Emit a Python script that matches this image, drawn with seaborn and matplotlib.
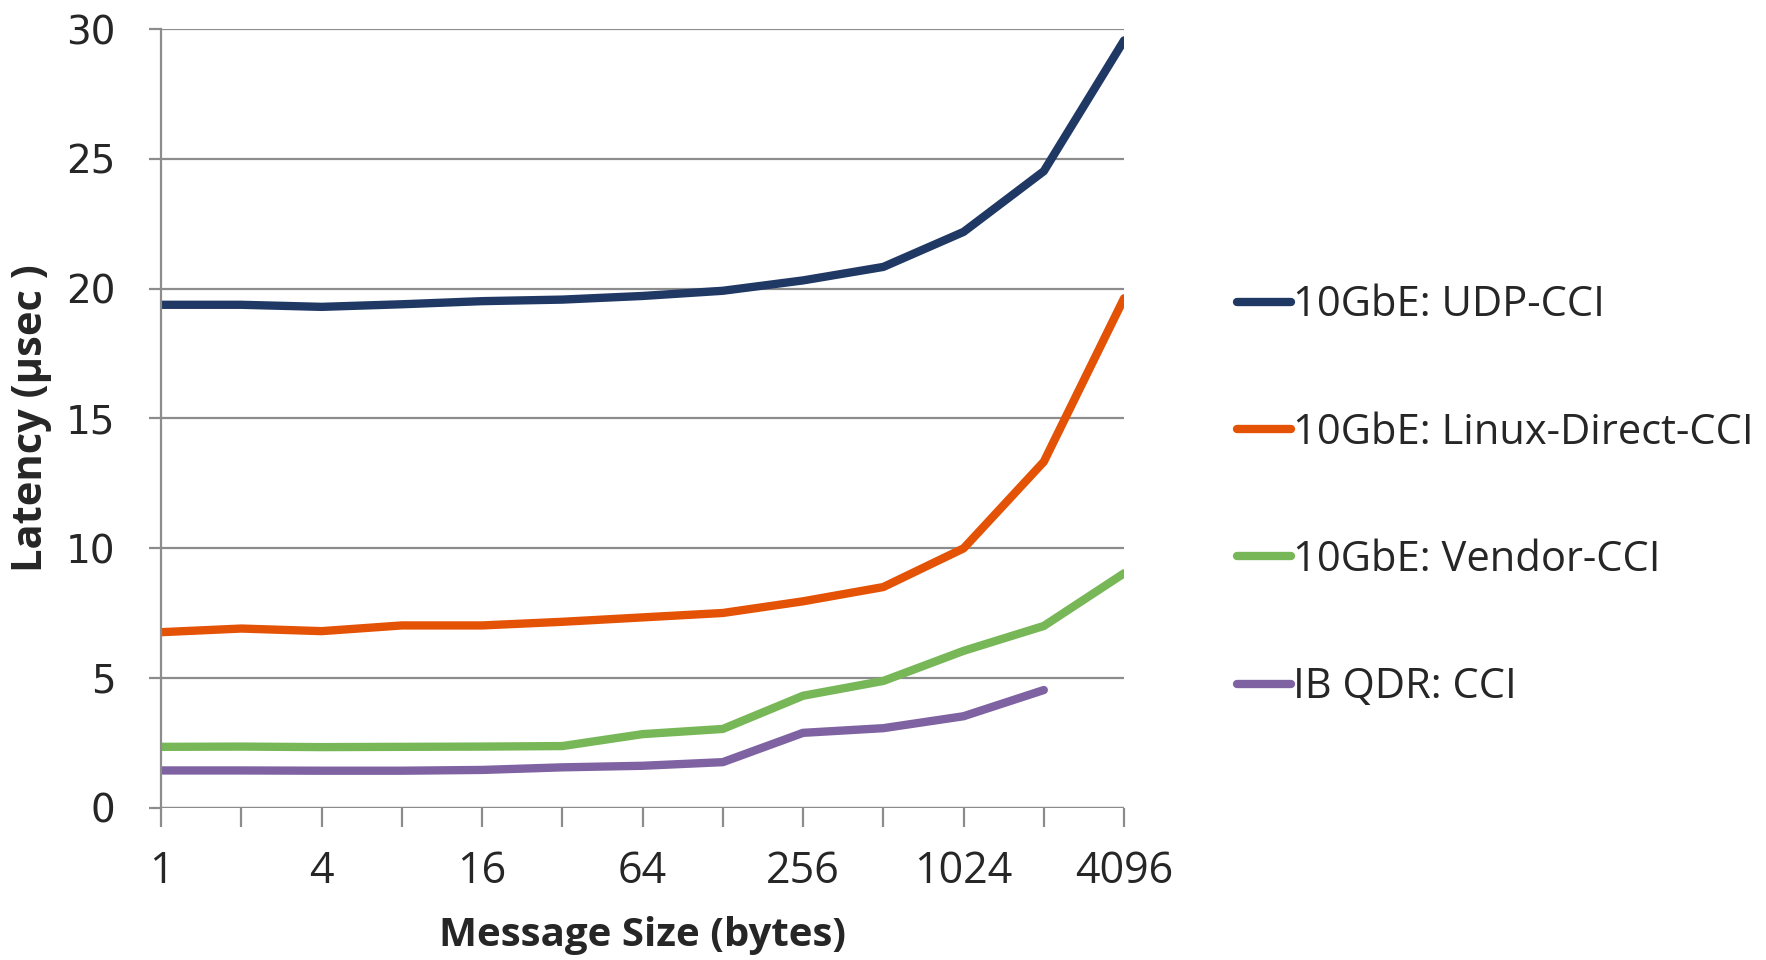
import numpy as np
import pandas as pd
import seaborn as sns
import matplotlib
matplotlib.use("Agg")
import matplotlib.pyplot as plt

sizes = [1, 2, 4, 8, 16, 32, 64, 128, 256, 512, 1024, 2048, 4096]
tick_labels = ["1", "", "4", "", "16", "", "64", "", "256", "", "1024", "", "4096"]

udp_cci = [19.38, 19.38, 19.30, 19.40, 19.52, 19.58, 19.72, 19.92, 20.32, 20.84, 22.19, 24.53, 29.57]
linux_direct_cci = [6.76, 6.90, 6.80, 7.02, 7.02, 7.16, 7.33, 7.50, 7.95, 8.50, 9.99, 13.33, 19.63]
vendor_cci = [2.34, 2.35, 2.33, 2.34, 2.35, 2.37, 2.83, 3.03, 4.31, 4.88, 6.04, 7.00, 9.03]
ibqdr_cci = [1.43, 1.43, 1.42, 1.42, 1.45, 1.55, 1.61, 1.75, 2.88, 3.06, 3.52, 4.53, None]

series_names = ["10GbE: UDP-CCI", "10GbE: Linux-Direct-CCI", "10GbE: Vendor-CCI", "IB QDR: CCI"]
series_vals = [udp_cci, linux_direct_cci, vendor_cci, ibqdr_cci]
colors = ["#1F3864", "#E35205", "#77B757", "#7E62A1"]

rows = []
for name, vals in zip(series_names, series_vals):
    for i, (s, v) in enumerate(zip(sizes, vals)):
        if v is not None:
            rows.append({"pos": i, "size": s, "latency": v, "series": name})
df = pd.DataFrame(rows)

sns.set_theme(style="white")
plt.rcParams["font.family"] = ["DejaVu Sans"]

fig = plt.figure(figsize=(17.66, 9.60), dpi=100)
ax = fig.add_axes([0.0912, 0.1588, 0.6365 - 0.0912, 0.9695 - 0.1588])

sns.lineplot(data=df, x="pos", y="latency", hue="series", hue_order=series_names,
             palette=colors, linewidth=6.0, ax=ax, legend=True)
for ln in ax.get_lines():
    ln.set_solid_capstyle("round")
    ln.set_solid_joinstyle("round")

ax.set_xlim(0, 12)
ax.set_ylim(0, 30)
ax.set_yticks([0, 5, 10, 15, 20, 25, 30])
ax.yaxis.grid(True, color="#8C8C8C", linewidth=1.6)
ax.xaxis.grid(False)
ax.set_axisbelow(True)
for sp in ["top", "right", "bottom"]:
    ax.spines[sp].set_visible(False)
ax.spines["left"].set_color("#8C8C8C")
ax.spines["left"].set_linewidth(1.6)
ax.axhline(0, color="#8C8C8C", linewidth=1.6, zorder=0.5)

ax.set_xticks(range(len(sizes)))
ax.set_xticklabels(tick_labels, fontsize=31, fontfamily="Open Sans")
ax.tick_params(axis="x", direction="out", length=14, width=1.6, color="#8C8C8C", pad=16, bottom=True)
ax.tick_params(axis="y", direction="out", length=9, width=1.6, color="#8C8C8C", pad=24, left=True, labelsize=28)

ax.set_xlabel("Message Size (bytes)", fontsize=29, fontweight="bold", fontfamily="Open Sans", labelpad=16)
ax.set_ylabel("Latency (µsec )", fontsize=30, fontweight="bold", fontfamily="Open Sans", labelpad=10)

handles, labels = ax.get_legend_handles_labels()
leg = ax.legend(handles, labels, loc="center left", bbox_to_anchor=(1.1, 0.40), frameon=False,
                prop={"family": "Open Sans", "size": 30}, handlelength=1.3, handletextpad=0.05,
                labelspacing=2.05, borderaxespad=0)
for h in leg.get_lines():
    h.set_linewidth(6.0)
    h.set_solid_capstyle("round")

fig.savefig("out.png", dpi=100)
